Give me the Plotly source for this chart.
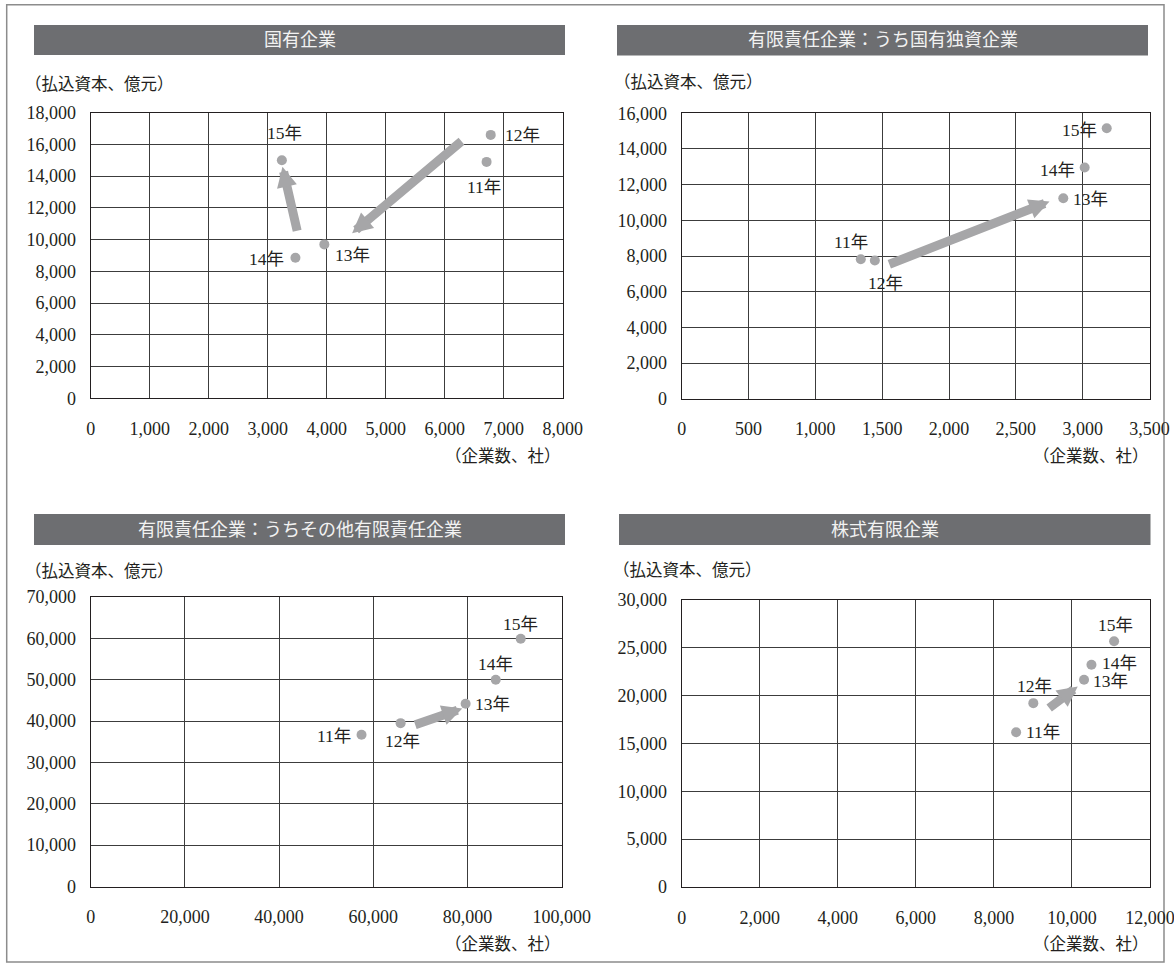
import plotly.graph_objects as go

W, H = 1174, 969

years = ["11年", "12年", "13年", "14年", "15年"]

# 国有企業
soe_firms = [6710, 6780, 3960, 3470, 3240]
soe_capital = [14900, 16600, 9700, 8860, 15000]

# 有限責任企業：うち国有独資企業
sole_firms = [1340, 1445, 2855, 3015, 3180]
sole_capital = [7820, 7750, 11240, 12960, 15160]

# 有限責任企業：うちその他有限責任企業
llc_firms = [57500, 65800, 79600, 86000, 91300]
llc_capital = [36700, 39500, 44200, 50000, 59900]

# 株式有限企業
jsc_firms = [8570, 9010, 10310, 10500, 11080]
jsc_capital = [16170, 19220, 21670, 23240, 25690]

# trend arrows: (from_x, from_y, to_x, to_y) in data units
soe_arrows = [(6310, 16280, 4430, 10400), (3505, 10460, 3250, 14600)]
sole_arrows = [(1542, 7505, 2752, 11053)]
llc_arrows = [(68580, 38960, 78900, 43040)]
jsc_arrows = [(9378, 18588, 10149, 20969)]

titles = ["国有企業", "有限責任企業：うち国有独資企業",
          "有限責任企業：うちその他有限責任企業", "株式有限企業"]
y_title = "（払込資本、億元）"
x_title = "（企業数、社）"

SERIF = "Liberation Serif, Noto Sans CJK JP, serif"
INK = "#231f20"
DOT = "#a6a6a8"
BAR = "#6d6e71"


def px_x(v):
    return v / W


def px_y(v):
    return 1 - v / H


# pixel geometry of each panel: plot box, title bar, axis-title anchors
panels = [
    dict(plot=(90.7, 562.7, 112.7, 398.3), bar=(34, 565, 25, 55),
         yt=(23, 84), xt=(563, 456), xmax=8000, xd=1000, ymax=18000, yd=2000),
    dict(plot=(681.7, 1149.5, 113.3, 398.7), bar=(617, 1148, 25, 55.5),
         yt=(612, 83), xt=(1151, 456), xmax=3500, xd=500, ymax=16000, yd=2000),
    dict(plot=(90.7, 561.7, 597, 886.5), bar=(34, 565, 514, 545),
         yt=(23, 571), xt=(563, 944), xmax=100000, xd=20000, ymax=70000, yd=10000),
    dict(plot=(681.7, 1150, 600, 887), bar=(619, 1150.5, 514, 545),
         yt=(611, 570), xt=(1151, 944), xmax=12000, xd=2000, ymax=30000, yd=5000),
]

series = [(soe_firms, soe_capital, soe_arrows),
          (sole_firms, sole_capital, sole_arrows),
          (llc_firms, llc_capital, llc_arrows),
          (jsc_firms, jsc_capital, jsc_arrows)]

# label placement per point: (xanchor, xshift, yshift)
label_pos = [
    [("center", -3, -25), ("left", 12, 0), ("left", 9, -11), ("right", -9, -1), ("center", 3, 27)],
    [("center", -10, 17), ("center", 11, -23), ("left", 8, -1), ("right", -8, -2), ("right", -8, -2)],
    [("right", -9, -1), ("center", 2, -18), ("left", 7, 0), ("center", 0, 16), ("center", 0, 15)],
    [("left", 8, 0), ("center", 1, 17), ("left", 7, -1), ("left", 9, 2), ("center", 1, 16)],
]

fig = go.Figure()
shapes = []
annotations = []
layout_axes = {}

# outer frame
shapes.append(dict(type="rect", xref="paper", yref="paper",
                   x0=px_x(6.7), x1=px_x(1164), y0=px_y(962), y1=px_y(4.7),
                   line=dict(color="#8c8c8c", width=1.5), layer="below"))

for i, (p, (xs, ys, arrows)) in enumerate(zip(panels, series)):
    n = "" if i == 0 else str(i + 1)
    xa, ya = "x" + n, "y" + n
    x0, x1, y0, y1 = p["plot"]

    common = dict(
        tick0=0, tickformat=",d", showgrid=True, gridcolor="#3c3c3c",
        gridwidth=1, showline=True, mirror=True, linecolor=INK, linewidth=1.2,
        zeroline=False, ticks="", automargin=False, fixedrange=True,
        ticklabeloverflow="allow",
        tickfont=dict(family=SERIF, size=18, color=INK))
    layout_axes["xaxis" + n] = dict(
        domain=[px_x(x0), px_x(x1)], anchor=ya, range=[0, p["xmax"]],
        dtick=p["xd"], ticklabelstandoff=14, **common)
    layout_axes["yaxis" + n] = dict(
        domain=[px_y(y1), px_y(y0)], anchor=xa, range=[0, p["ymax"]],
        dtick=p["yd"], ticklabelstandoff=10, **common)

    fig.add_trace(go.Scatter(
        x=xs, y=ys, mode="markers", xaxis=xa, yaxis=ya, showlegend=False,
        marker=dict(size=10, color=DOT), hoverinfo="skip"))

    for (fx, fy, tx, ty) in arrows:
        annotations.append(dict(
            x=tx, y=ty, ax=fx, ay=fy, xref=xa, yref=ya, axref=xa, ayref=ya,
            text="", showarrow=True, arrowhead=2, arrowsize=0.45,
            arrowwidth=9, arrowcolor=DOT, standoff=0, startstandoff=0))

    for (vx, vy, lab, (anc, dx, dy)) in zip(xs, ys, years, label_pos[i]):
        annotations.append(dict(
            x=vx, y=vy, xref=xa, yref=ya, text=lab, showarrow=False,
            xanchor=anc, yanchor="middle", xshift=dx, yshift=dy,
            font=dict(family=SERIF, size=17.5, color=INK)))

    bx0, bx1, by0, by1 = p["bar"]
    shapes.append(dict(type="rect", xref="paper", yref="paper",
                       x0=px_x(bx0), x1=px_x(bx1), y0=px_y(by1), y1=px_y(by0),
                       fillcolor=BAR, line=dict(width=0), layer="below"))
    annotations.append(dict(
        x=px_x((bx0 + bx1) / 2), y=px_y((by0 + by1) / 2), xref="paper", yref="paper",
        text=titles[i], showarrow=False, xanchor="center", yanchor="middle",
        font=dict(family=SERIF, size=18, color="#f2f2f2")))

    annotations.append(dict(
        x=px_x(p["yt"][0]), y=px_y(p["yt"][1]), xref="paper", yref="paper",
        text=y_title, showarrow=False, xanchor="left", yanchor="middle",
        font=dict(family=SERIF, size=16.5, color=INK)))
    annotations.append(dict(
        x=px_x(p["xt"][0]), y=px_y(p["xt"][1]), xref="paper", yref="paper",
        text=x_title, showarrow=False, xanchor="right", yanchor="middle",
        font=dict(family=SERIF, size=16.5, color=INK)))

fig.update_layout(
    width=W, height=H, margin=dict(l=0, r=0, t=0, b=0, autoexpand=False),
    paper_bgcolor="white", plot_bgcolor="white",
    shapes=shapes, annotations=annotations, showlegend=False,
    **layout_axes)

fig.write_html("out.html", config={"displayModeBar": False})
